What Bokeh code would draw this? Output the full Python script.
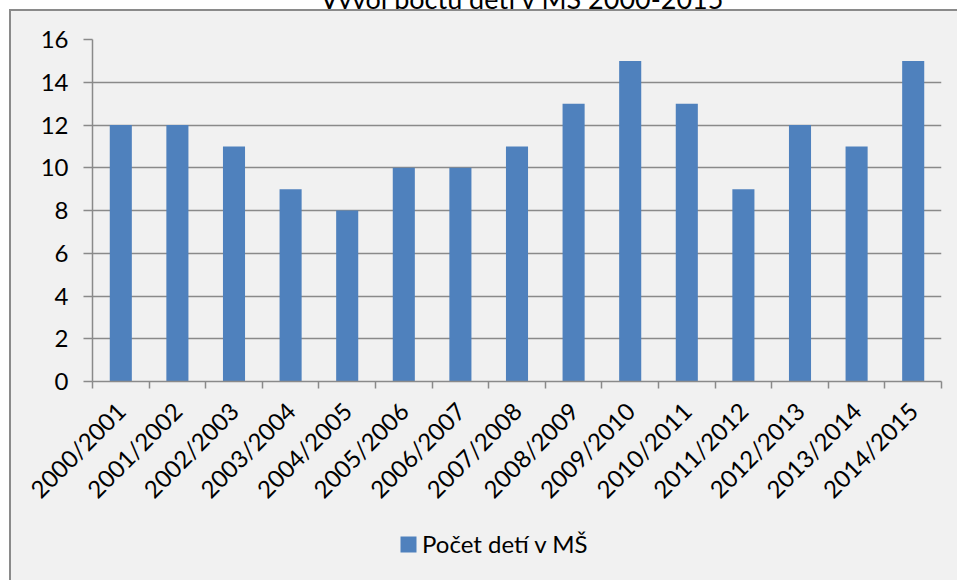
from bokeh.plotting import figure
from bokeh.layouts import column
from bokeh.models import (Range1d, FixedTicker, Label, Legend, LegendItem, ColumnDataSource)
from bokeh.embed import file_html
from bokeh.resources import INLINE
import math

title_text = "Vývoj počtu detí v MŠ 2000-2015"
series_name = "Počet detí v MŠ"
categories = ["2000/2001", "2001/2002", "2002/2003", "2003/2004", "2004/2005",
              "2005/2006", "2006/2007", "2007/2008", "2008/2009", "2009/2010",
              "2010/2011", "2011/2012", "2012/2013", "2013/2014", "2014/2015"]
counts = [12, 12, 11, 9, 8, 10, 10, 11, 13, 15, 13, 9, 12, 11, 15]
y_ticks = [0, 2, 4, 6, 8, 10, 12, 14, 16]

FONT = "Lato"
FS = "24px"
GRAY = "#8a8a8a"
BG = "#f1f1f1"
BAR = "#4f81bd"

positions = list(range(len(categories)))
source = ColumnDataSource(dict(x=positions, top=counts, cat=categories))

W, H = 957, 580
T = 40            # title strip height above the window (title is cut off there, as in the reference)
BOX = 9           # y where the chart box starts (page px)
SPLIT = 520       # y where the legend strip starts (page px)
FL, FR, FT, FB = 92, 941, 39, 381


def box_bg(top_line):
    layers = [f"linear-gradient({GRAY},{GRAY}) 9px 0px / 2px 100% no-repeat"]
    if top_line:
        layers.append(f"linear-gradient({GRAY},{GRAY}) 9px 0px / 100% 2px no-repeat")
    layers.append(f"linear-gradient({BG},{BG}) 9px 0px / 100% 100% no-repeat")
    return ", ".join(layers) + ", #ffffff"


# ---- title strip (frame is aligned with the main chart's frame) ----
tf = figure(width=W, height=T + BOX, output_backend="svg", toolbar_location=None,
            x_range=Range1d(0, 1), y_range=Range1d(0, 1), title=None,
            x_axis_location=None, y_axis_location=None, min_border=0)
tf.grid.visible = False
tf.outline_line_color = None
tf.background_fill_color = "white"
tf.border_fill_color = "white"
tf.add_layout(Label(x=522 - FL, y=11, x_units="screen", y_units="screen",
                    text=title_text, text_align="center", text_baseline="alphabetic",
                    text_font=FONT, text_font_size="27px", text_color="black"))

# ---- main chart ----
p = figure(width=W, height=SPLIT - BOX, output_backend="svg", toolbar_location=None,
           x_range=Range1d(-0.5, len(categories) - 0.5),
           y_range=Range1d(y_ticks[0], y_ticks[-1]), title=None,
           min_border_left=FL, min_border_right=W - FR,
           min_border_top=FT - BOX, min_border_bottom=SPLIT - FB)
p.styles = {"background": box_bg(True)}
p.background_fill_alpha = 0
p.border_fill_alpha = 0
p.outline_line_color = None

bars = p.vbar(x="x", top="top", width=0.39, source=source,
              fill_color=BAR, line_color=None)

xa = p.xaxis[0]
xa.ticker = FixedTicker(ticks=positions, minor_ticks=[i - 0.5 for i in range(len(categories) + 1)])
xa.major_label_overrides = {i: c for i, c in zip(positions, categories)}
xa.major_label_orientation = math.pi / 4
xa.major_tick_out = 0
xa.major_tick_in = 0
xa.minor_tick_out = 7
xa.minor_tick_in = 0
xa.minor_tick_line_color = GRAY
xa.minor_tick_line_width = 1.5
xa.axis_line_color = GRAY
xa.axis_line_width = 1.5
xa.major_label_standoff = 18
xa.major_label_text_font = FONT
xa.major_label_text_font_size = FS
xa.major_label_text_color = "black"

ya = p.yaxis[0]
ya.ticker = FixedTicker(ticks=y_ticks)
ya.major_tick_out = 9
ya.major_tick_in = 0
ya.minor_tick_out = 0
ya.minor_tick_in = 0
ya.major_tick_line_color = GRAY
ya.major_tick_line_width = 1.5
ya.axis_line_color = GRAY
ya.axis_line_width = 1.5
ya.major_label_standoff = 15
ya.major_label_text_font = FONT
ya.major_label_text_font_size = FS
ya.major_label_text_color = "black"

p.xgrid.visible = False
p.ygrid.ticker = FixedTicker(ticks=y_ticks)
p.ygrid.grid_line_color = GRAY
p.ygrid.grid_line_width = 1.5

# ---- legend strip ----
lf = figure(width=W, height=H - SPLIT, output_backend="svg", toolbar_location=None,
            x_range=Range1d(-0.5, len(categories) - 0.5), y_range=Range1d(0, 1), title=None,
            x_axis_location=None, y_axis_location=None, min_border=0)
lf.styles = {"background": box_bg(False)}
lf.grid.visible = False
lf.outline_line_color = None
lf.background_fill_alpha = 0
lf.border_fill_alpha = 0
# hidden copy of the series, used only as the legend's swatch
proxy = lf.vbar(x="x", top="top", width=0.39, source=source,
                fill_color=BAR, line_color=None, visible=False)
legend = Legend(items=[LegendItem(label=series_name, renderers=[proxy])],
                location=(398 - FL, 22), orientation="horizontal",
                glyph_width=20, glyph_height=20, label_height=20, label_standoff=4,
                padding=0, margin=0, spacing=0,
                border_line_color=None, background_fill_alpha=0,
                label_text_font=FONT, label_text_font_size=FS,
                label_text_color="black")
lf.add_layout(legend)

layout = column(tf, p, lf, spacing=0)
layout.margin = (-T, 0, 0, 0)

open("out.html", "w").write(file_html(layout, INLINE))
